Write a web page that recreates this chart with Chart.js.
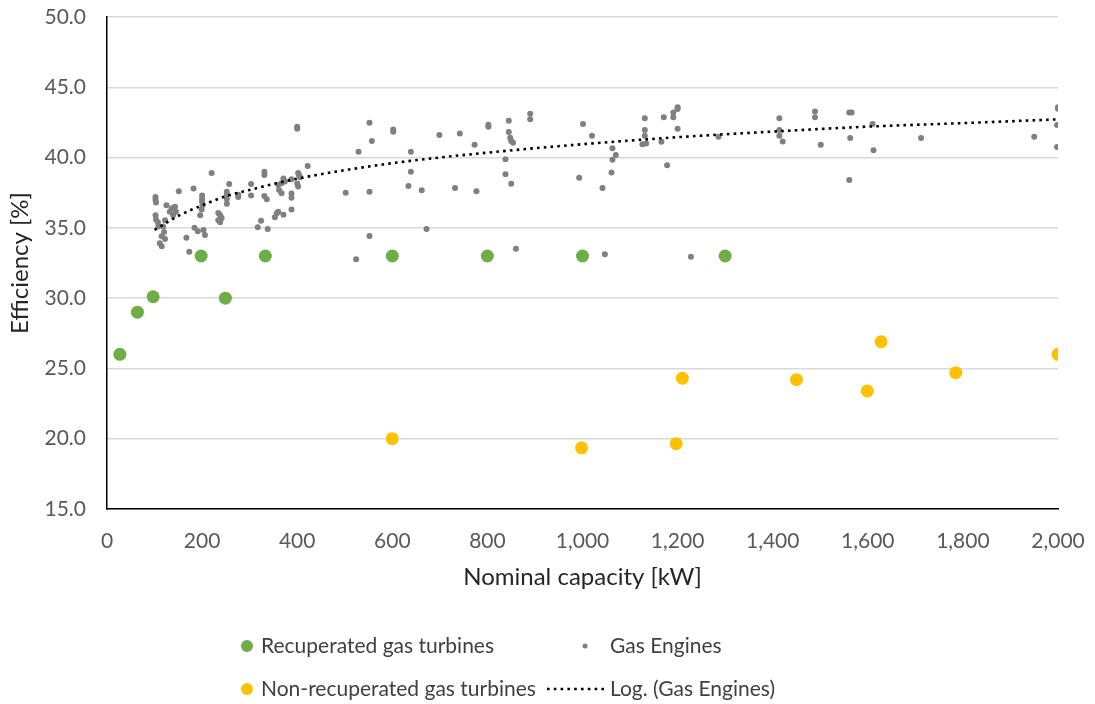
<!DOCTYPE html>
<html lang="en">
<head>
<meta charset="UTF-8" />
<title>Efficiency vs nominal capacity</title>
<style>
  html, body { margin: 0; padding: 0; background: #fff; }
  #wrap { width: 1095px; height: 704px; }
</style>
</head>
<body>
<div id="wrap"><canvas id="chart" width="1095" height="704"></canvas></div>
<script src="https://cdn.jsdelivr.net/npm/chart.js"></script>
<script>
  // values (kW, %)
  const recupX = [27, 64, 97, 198, 249, 333, 600, 800, 1000, 1300];
  const recupY = [26.0, 29.0, 30.1, 33.0, 30.0, 33.0, 33.0, 33.0, 33.0, 33.0];

  const nonRecupX = [600, 998, 1197, 1210, 1450, 1599, 1628, 1785, 2000];
  const nonRecupY = [20.0, 19.35, 19.65, 24.3, 24.2, 23.4, 26.9, 24.7, 26.0];

  const engineX = [
    102, 102, 103, 125, 136, 143, 145, 132, 139, 102, 103, 107, 108, 122, 118, 120, 115, 122, 111, 115,
    151, 182, 220, 200, 200, 200, 201, 199, 196, 167, 173, 184, 191, 203, 206,
    234, 238, 241, 234, 238, 252, 252, 252, 252, 257, 276, 276, 303, 303,
    331, 331, 331, 336, 324, 317, 338, 360, 367, 371, 374, 362, 367, 388, 388, 388,
    360, 357, 371, 353, 388, 400, 400, 402, 404, 406, 400, 402, 422,
    502, 552, 552, 524, 552, 557, 529, 602, 602, 699, 639, 639, 634, 662, 672,
    742, 773, 802, 802, 845, 845, 848, 850, 854, 890, 890, 838, 838, 850, 732, 777, 860,
    993, 1001, 1020, 1063, 1070, 1063, 1061, 1042, 1131, 1131, 1131, 1126, 1134,
    1171, 1191, 1191, 1200, 1200, 1166, 1200, 1178, 1286, 1414, 1414, 1414, 1421,
    1489, 1489, 1501, 1047, 1228, 1561, 1566, 1563, 1561, 1610, 1612, 1712, 1950,
    2000, 2000, 1998, 1998
  ];
  const engineY = [
    37.2, 37.0, 36.8, 36.6, 36.4, 36.5, 36.15, 36.15, 35.9, 35.9, 35.6, 35.4, 35.1, 35.55, 35.1, 34.7, 34.4, 34.2, 33.9, 33.7,
    37.6, 37.8, 38.9, 37.3, 37.05, 36.85, 36.6, 36.3, 35.9, 34.3, 33.3, 35.0, 34.75, 34.85, 34.5,
    36.05, 35.9, 35.7, 35.55, 35.4, 37.57, 37.34, 37.05, 36.72, 38.12, 37.35, 37.2, 38.12, 37.3,
    39.0, 38.76, 37.27, 37.03, 35.5, 35.04, 34.92, 38.05, 38.17, 38.52, 38.29, 37.7, 37.46, 38.45, 37.45, 37.15,
    36.15, 36.04, 35.93, 35.75, 36.3, 42.2, 42.05, 38.9, 38.75, 38.6, 38.15, 37.95, 39.4,
    37.5, 37.57, 34.42, 32.76, 42.48, 41.18, 40.42, 42.0, 41.84, 41.6, 40.42, 39.0, 37.98, 37.67, 34.92,
    41.72, 40.92, 42.34, 42.2, 42.62, 41.82, 41.41, 41.18, 41.06, 43.12, 42.72, 39.88, 38.81, 38.14, 37.83, 37.6, 33.52,
    38.57, 42.39, 41.56, 40.66, 40.18, 39.85, 38.93, 37.83, 42.79, 41.96, 41.56, 40.94, 41.0,
    42.86, 43.2, 42.86, 43.58, 43.45, 41.13, 42.05, 39.45, 41.49, 42.79, 41.96, 41.55, 41.15,
    43.28, 42.86, 40.92, 33.12, 32.95, 43.2, 43.2, 41.39, 38.4, 42.39, 40.52, 41.39, 41.49,
    43.58, 43.48, 42.32, 40.75
  ];

  // dotted log trendline at these capacities
  const trendX = [100, 150, 200, 250, 300, 400, 600, 800, 1000, 1200, 1400, 1600, 1800, 2000];
  const trendY = [34.85, 35.85, 36.6, 37.25, 37.7, 38.5, 39.6, 40.35, 40.95, 41.45, 41.85, 42.2, 42.45, 42.72];

  const xTicks = [0, 200, 400, 600, 800, 1000, 1200, 1400, 1600, 1800, 2000];
  const yTicks = [15, 20, 25, 30, 35, 40, 45, 50];

  const labels = ['Recuperated gas turbines', 'Non-recuperated gas turbines', 'Gas Engines', 'Log. (Gas Engines)'];

  const toPoints = (xs, ys) => xs.map((x, i) => ({ x: x, y: ys[i] }));

  const FONT = 'Lato, "Open Sans", sans-serif';

  const legendGrid = {
    id: 'legendGrid',
    afterDraw(chart) {
      const ctx = chart.ctx;
      const ds = chart.data.datasets;
      const rows = [646, 689];
      ctx.save();
      ctx.font = '21px ' + FONT;
      ctx.fillStyle = '#404040';
      ctx.textBaseline = 'middle';
      // first column: turbines
      [2, 3].forEach((idx, r) => {
        ctx.beginPath();
        ctx.fillStyle = ds[idx].backgroundColor;
        ctx.arc(247, rows[r], 6, 0, Math.PI * 2);
        ctx.fill();
        ctx.fillStyle = '#404040';
        ctx.fillText(ds[idx].label, 261, rows[r]);
      });
      // second column: engines and trend
      ctx.beginPath();
      ctx.fillStyle = ds[0].backgroundColor;
      ctx.arc(585, rows[0], 2.5, 0, Math.PI * 2);
      ctx.fill();
      ctx.fillStyle = '#404040';
      ctx.fillText(ds[0].label, 610, rows[0]);
      ctx.beginPath();
      ctx.strokeStyle = ds[1].borderColor;
      ctx.lineWidth = ds[1].borderWidth;
      ctx.setLineDash(ds[1].borderDash);
      ctx.moveTo(547, rows[1]);
      ctx.lineTo(604, rows[1]);
      ctx.stroke();
      ctx.setLineDash([]);
      ctx.fillText(ds[1].label, 610, rows[1]);
      ctx.restore();
    }
  };

  const ctx = document.getElementById('chart').getContext('2d');
  new Chart(ctx, {
    type: 'scatter',
    data: {
      datasets: [
        {
          label: labels[2],
          data: toPoints(engineX, engineY),
          backgroundColor: '#808080',
          borderWidth: 0,
          pointRadius: 3,
          order: 3
        },
        {
          label: labels[3],
          data: toPoints(trendX, trendY),
          showLine: true,
          cubicInterpolationMode: 'monotone',
          borderColor: '#000000',
          borderWidth: 2.6,
          borderDash: [2.6, 4.2],
          pointRadius: 0,
          fill: false,
          order: 2
        },
        {
          label: labels[0],
          data: toPoints(recupX, recupY),
          backgroundColor: '#70AD47',
          borderWidth: 0,
          pointRadius: 6.5,
          order: 1
        },
        {
          label: labels[1],
          data: toPoints(nonRecupX, nonRecupY),
          backgroundColor: '#FFC000',
          borderWidth: 0,
          pointRadius: 6.5,
          order: 0
        }
      ]
    },
    options: {
      responsive: false,
      animation: false,
      layout: { padding: { left: 0, right: 37, top: 17, bottom: 95 } },
      plugins: {
        legend: { display: false },
        tooltip: { enabled: false }
      },
      scales: {
        x: {
          type: 'linear',
          min: 0,
          max: 2000,
          afterFit(scale) {
            scale.height = 100;
            scale.paddingLeft = 0;
            scale.paddingRight = 0;
          },
          afterBuildTicks(scale) { scale.ticks = xTicks.map(v => ({ value: v })); },
          grid: { display: false, drawTicks: false },
          border: { display: true, color: '#000000', width: 1.5 },
          ticks: {
            padding: 20,
            color: '#595959',
            font: { family: FONT, size: 21 },
            maxRotation: 0,
            callback: v => v.toLocaleString('en-US')
          },
          title: {
            display: true,
            text: 'Nominal capacity [kW]',
            color: '#262626',
            font: { family: FONT, size: 24 },
            padding: { top: 0, bottom: 17 }
          }
        },
        y: {
          type: 'linear',
          min: 15,
          max: 50,
          afterFit(scale) {
            scale.width = 107;
            scale.paddingTop = 0;
            scale.paddingBottom = 0;
          },
          afterBuildTicks(scale) { scale.ticks = yTicks.map(v => ({ value: v })); },
          grid: { color: '#D9D9D9', lineWidth: 1.5, drawTicks: false },
          border: { display: true, color: '#000000', width: 1.5 },
          ticks: {
            padding: 21,
            color: '#595959',
            font: { family: FONT, size: 21 },
            callback: v => v.toFixed(1)
          },
          title: {
            display: true,
            text: 'Efficiency [%]',
            color: '#262626',
            font: { family: FONT, size: 24 },
            padding: { top: 6, bottom: 0 }
          }
        }
      }
    },
    plugins: [legendGrid]
  });
</script>
</body>
</html>
